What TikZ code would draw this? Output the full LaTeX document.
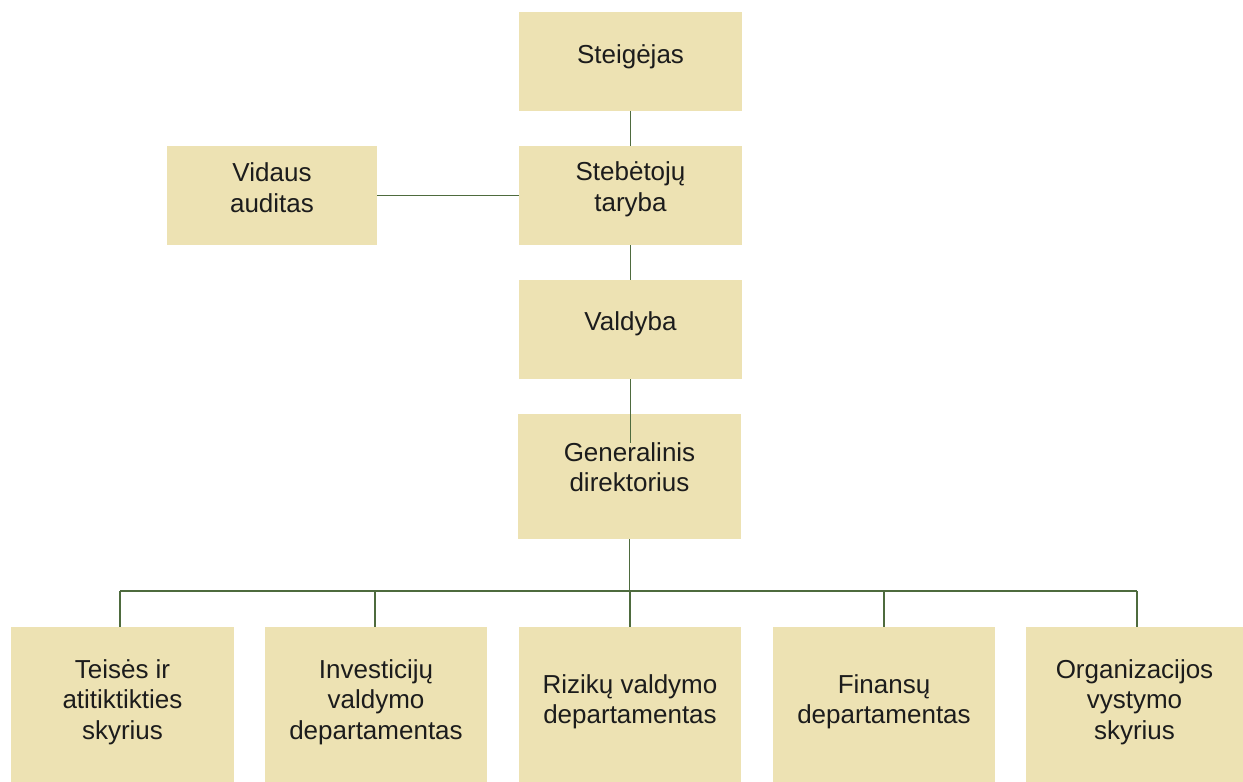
\documentclass[tikz,border=0pt]{standalone}
\usepackage{fontspec}
\setmainfont{Liberation Sans}
\usetikzlibrary{positioning}
\definecolor{orgBox}{HTML}{EDE2B3}
\definecolor{orgLine}{HTML}{4E6B3E}
\definecolor{orgInk}{HTML}{1C1C1C}

\begin{document}
\begin{tikzpicture}[x=1pt,y=-1pt,line cap=butt,line join=miter]
\tikzset{box/.style={fill=orgBox,inner sep=0pt,minimum width=223pt,minimum height=99pt},
lowbox/.style={box,minimum height=155pt},
lbl/.style={text=orgInk,align=center,inner sep=0pt,anchor=base,font=\fontsize{26}{30.5}\selectfont},
link/.style={draw=orgLine,line width=1.3pt}}
\path[fill=white] (0,0) rectangle (1243,782);
% upper chain
\node[box] (steig) at (630.5,61.5) {};
\node[box] (taryba) at (630.5,195.5) {};
\node[box,minimum width=210pt] (auditas) at (272,195.5) {};
\node[box] (valdyba) at (630.5,329.5) {};
\node[box,minimum height=125pt] (gendir) at (629.5,476.5) {};
\node[lbl] at ([yshift=-1.8pt]steig.center) {Steigėjas};
\node[lbl] at ([yshift=-15.5pt]taryba.center) {Stebėtojų\\taryba};
\node[lbl] at ([yshift=-16.5pt]auditas.center) {Vidaus\\auditas};
\node[lbl] at ([yshift=-0.5pt]valdyba.center) {Valdyba};
\node[lbl] at ([yshift=-15.2pt]gendir.center) {Generalinis\\direktorius};
% departments
\node[lowbox] (teise) at (122.5,704.5) {};
\node[lowbox,minimum width=222pt] (invest) at (376,704.5) {};
\node[lowbox,minimum width=222pt] (rizika) at (630,704.5) {};
\node[lowbox,minimum width=222pt] (finans) at (884,704.5) {};
\node[lowbox,minimum width=217pt] (organiz) at (1134.5,704.5) {};
\node[lbl] at ([yshift=-34.5pt]teise.center) {Teisės ir\\atitiktikties\\skyrius};
\node[lbl] at ([yshift=-34.5pt]invest.center) {Investicijų\\valdymo\\departamentas};
\node[lbl] at ([yshift=-19.2pt]rizika.center) {Rizikų valdymo\\departamentas};
\node[lbl] at ([yshift=-19.2pt]finans.center) {Finansų\\departamentas};
\node[lbl] at ([yshift=-34.5pt]organiz.center) {Organizacijos\\vystymo\\skyrius};
% connectors
\draw[link] (steig.south) -- (taryba.north);
\draw[link] (auditas.east) -- (taryba.west);
\draw[link] (taryba.south) -- (valdyba.north);
\coordinate (vdEnd) at ([yshift=-29pt]gendir.north -| valdyba.south);
\draw[link] (valdyba.south) -- (vdEnd);
\coordinate (d1) at (120,591);
\coordinate (d2) at (375,591);
\coordinate (d3) at (630,591);
\coordinate (d4) at (884,591);
\coordinate (d5) at (1137,591);
\draw[link] (gendir.south) -- (gendir.south |- d3);
\draw[link] (d1) -- (d5);
\draw[link] (d1) -- (d1 |- teise.north);
\draw[link] (d2) -- (d2 |- invest.north);
\draw[link] (d3) -- (rizika.north);
\draw[link] (d4) -- (d4 |- finans.north);
\draw[link] (d5) -- (d5 |- organiz.north);
\end{tikzpicture}
\end{document}
